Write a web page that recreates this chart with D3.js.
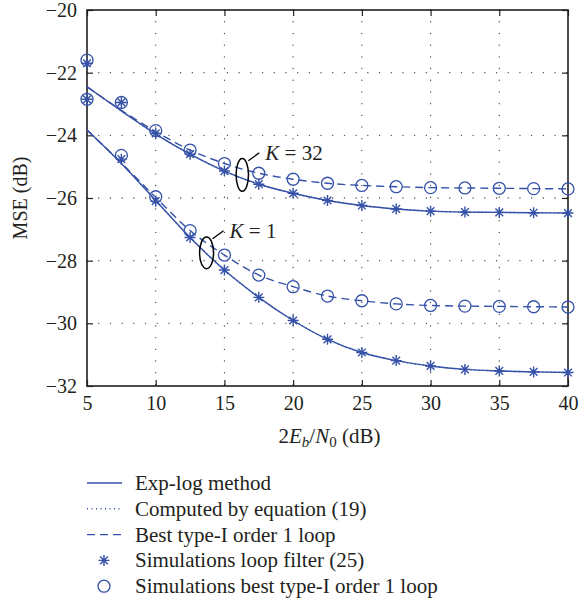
<!DOCTYPE html>
<html>
<head>
<meta charset="utf-8">
<script src="https://cdn.jsdelivr.net/npm/d3@7"></script>
<style>
  body { margin: 0; background: #fff; }
  text { font-family: "Liberation Serif", "DejaVu Serif", serif; fill: #231f20; }
</style>
</head>
<body>
<div id="my_dataviz"></div>
<script>
// x values (2Eb/N0 in dB)
var snr = [5, 7.5, 10, 12.5, 15, 17.5, 20, 22.5, 25, 27.5, 30, 32.5, 35, 37.5, 40];

// K = 32
var expLogK32 = [-22.45, -23.22, -23.96, -24.6, -25.14, -25.56, -25.85, -26.08, -26.24, -26.35, -26.42, -26.45, -26.46, -26.47, -26.48];
var eqK32 = [-22.45, -23.22, -23.96, -24.6, -25.14, -25.56, -25.85, -26.08, -26.24, -26.35, -26.42, -26.45, -26.46, -26.47, -26.48];
var bestK32 = [-22.45, -23.2, -23.88, -24.47, -24.9, -25.21, -25.4, -25.53, -25.6, -25.64, -25.67, -25.68, -25.69, -25.7, -25.71];
var simLoopK32 = [-21.7, -22.95, -23.94, -24.6, -25.14, -25.56, -25.85, -26.08, -26.24, -26.35, -26.42, -26.45, -26.46, -26.47, -26.48];
var simBestK32 = [-21.6, -22.95, -23.85, -24.47, -24.9, -25.21, -25.4, -25.53, -25.6, -25.64, -25.67, -25.68, -25.69, -25.7, -25.71];

// K = 1
var expLogK1 = [-23.83, -24.9, -26.08, -27.26, -28.3, -29.17, -29.91, -30.51, -30.93, -31.19, -31.36, -31.47, -31.52, -31.55, -31.57];
var eqK1 = [-23.83, -24.9, -26.08, -27.26, -28.3, -29.17, -29.91, -30.51, -30.93, -31.19, -31.36, -31.47, -31.52, -31.55, -31.57];
var bestK1 = [-23.83, -24.88, -25.98, -27.04, -27.82, -28.46, -28.83, -29.13, -29.28, -29.38, -29.43, -29.45, -29.46, -29.47, -29.48];
var simLoopK1 = [-22.85, -24.76, -26.1, -27.26, -28.3, -29.17, -29.91, -30.51, -30.93, -31.19, -31.36, -31.47, -31.52, -31.55, -31.57];
var simBestK1 = [-22.85, -24.64, -25.96, -27.04, -27.82, -28.46, -28.83, -29.13, -29.28, -29.38, -29.43, -29.45, -29.46, -29.47, -29.48];

var xTicks = [5, 10, 15, 20, 25, 30, 35, 40];
var yTicks = [-32, -30, -28, -26, -24, -22, -20];

var legendLabels = ["Exp-log method", "Computed by equation (19)", "Best type-I order 1 loop",
  "Simulations loop filter (25)", "Simulations best type-I order 1 loop"];

var blue = "#3552a8";

// set the dimensions and margins of the graph
var margin = { top: 10, right: 12, bottom: 214, left: 87 },
    width = 580 - margin.left - margin.right,
    height = 600 - margin.top - margin.bottom;

var svg = d3.select("#my_dataviz")
  .append("svg")
  .attr("width", 580)
  .attr("height", 600)
  .append("g")
  .attr("transform", "translate(" + margin.left + "," + margin.top + ")");

var x = d3.scaleLinear().domain([5, 40]).range([0, width]);
var y = d3.scaleLinear().domain([-32, -20]).range([height, 0]);

// dotted grid
svg.append("g")
  .attr("class", "grid")
  .selectAll("line.gx")
  .data(xTicks.slice(1, -1))
  .enter().append("line")
  .attr("x1", d => x(d)).attr("x2", d => x(d))
  .attr("y1", 0).attr("y2", height);
svg.select(".grid")
  .selectAll("line.gy")
  .data(yTicks.slice(1, -1))
  .enter().append("line")
  .attr("x1", 0).attr("x2", width)
  .attr("y1", d => y(d)).attr("y2", d => y(d));
svg.selectAll(".grid line")
  .attr("stroke", "#444")
  .attr("stroke-width", 1.3)
  .attr("stroke-linecap", "round")
  .attr("stroke-dasharray", "0.1,11.6");

// axes with inward ticks
function styleAxis(g) {
  g.select(".domain").remove();
  g.selectAll("line").attr("stroke", "#231f20").attr("stroke-width", 1.2);
  g.selectAll("text").style("font-size", "20px").attr("fill", "#231f20");
}
svg.append("g")
  .attr("transform", "translate(0," + height + ")")
  .call(d3.axisBottom(x).tickValues(xTicks).tickSize(-6).tickPadding(10))
  .call(styleAxis);
svg.append("g")
  .call(d3.axisTop(x).tickValues(xTicks).tickSize(-6).tickFormat(""))
  .call(styleAxis);
svg.append("g")
  .call(d3.axisLeft(y).tickValues(yTicks).tickSize(-6).tickPadding(10))
  .call(styleAxis);
svg.append("g")
  .attr("transform", "translate(" + width + ",0)")
  .call(d3.axisRight(y).tickValues(yTicks).tickSize(-6).tickFormat(""))
  .call(styleAxis);

svg.append("rect")
  .attr("width", width).attr("height", height)
  .attr("fill", "none").attr("stroke", "#231f20").attr("stroke-width", 1.6);

// lines
var line = d3.line()
  .x((d, i) => x(snr[i]))
  .y(d => y(d))
  .curve(d3.curveMonotoneX);

function drawLine(vals, dash) {
  svg.append("path")
    .datum(vals)
    .attr("fill", "none")
    .attr("stroke", blue)
    .attr("stroke-width", 1.4)
    .attr("stroke-dasharray", dash)
    .attr("d", line);
}
drawLine(expLogK32, null);
drawLine(expLogK1, null);
drawLine(eqK32, "1,3");
drawLine(eqK1, "1,3");
drawLine(bestK32, "8,5");
drawLine(bestK1, "8,5");

// markers
function star(g, s) {
  g.append("path")
    .attr("d", "M" + -s + ",0H" + s + "M0," + -s + "V" + s +
      "M" + (-s * 0.7) + "," + (-s * 0.7) + "L" + (s * 0.7) + "," + (s * 0.7) +
      "M" + (-s * 0.7) + "," + (s * 0.7) + "L" + (s * 0.7) + "," + (-s * 0.7))
    .attr("stroke", blue).attr("stroke-width", 1.4).attr("fill", "none");
}
function circ(g) {
  g.append("circle").attr("r", 6)
    .attr("fill", "none").attr("stroke", blue).attr("stroke-width", 1.3);
}
[simLoopK32, simLoopK1].forEach(function (vals) {
  svg.selectAll(null).data(vals).enter().append("g")
    .attr("transform", (d, i) => "translate(" + x(snr[i]) + "," + y(d) + ")")
    .each(function () { star(d3.select(this), 5.5); });
});
[simBestK32, simBestK1].forEach(function (vals) {
  svg.selectAll(null).data(vals).enter().append("g")
    .attr("transform", (d, i) => "translate(" + x(snr[i]) + "," + y(d) + ")")
    .each(function () { circ(d3.select(this)); });
});

// K annotations
var notes = [
  { cx: 16.3, cy: -25.26, rx: 6.2, ry: 16.4, label: "32" },
  { cx: 13.7, cy: -27.75, rx: 7, ry: 15.8, label: "1" }
];
notes.forEach(function (n) {
  var px = x(n.cx), py = y(n.cy);
  svg.append("ellipse")
    .attr("cx", px).attr("cy", py).attr("rx", n.rx).attr("ry", n.ry)
    .attr("fill", "none").attr("stroke", "#000").attr("stroke-width", 1.5);
  svg.append("line")
    .attr("x1", px + 6).attr("y1", py - 14)
    .attr("x2", px + 17).attr("y2", py - 22)
    .attr("stroke", "#000").attr("stroke-width", 1.3);
  var t = svg.append("text")
    .attr("x", px + 23).attr("y", py - 15)
    .style("font-size", "21px");
  t.append("tspan").style("font-style", "italic").text("K");
  t.append("tspan").text(" = " + n.label);
});

// axis titles
var xl = svg.append("text")
  .attr("x", width / 2 + 2).attr("y", height + 57)
  .attr("text-anchor", "middle")
  .style("font-size", "21px");
xl.append("tspan").text("2");
xl.append("tspan").style("font-style", "italic").text("E");
xl.append("tspan").style("font-style", "italic").style("font-size", "15px").attr("dy", 4).text("b");
xl.append("tspan").attr("dy", -4).text("/");
xl.append("tspan").style("font-style", "italic").text("N");
xl.append("tspan").style("font-size", "15px").attr("dy", 4).text("0");
xl.append("tspan").attr("dy", -4).text(" (dB)");

svg.append("text")
  .attr("transform", "translate(" + (27 - margin.left) + "," + (height / 2) + ") rotate(-90)")
  .attr("text-anchor", "middle")
  .style("font-size", "20px")
  .text("MSE (dB)");

// legend
var legend = d3.select("svg").append("g").attr("transform", "translate(87,483)");
legendLabels.forEach(function (lab, i) {
  var row = legend.append("g").attr("transform", "translate(0," + (i * 25.8) + ")");
  if (i < 3) {
    row.append("line")
      .attr("x1", 0).attr("x2", 35).attr("y1", 0).attr("y2", 0)
      .attr("stroke", blue).attr("stroke-width", 1.4)
      .attr("stroke-dasharray", [null, "1,3.5", "8,5"][i]);
  } else if (i === 3) {
    star(row.append("g").attr("transform", "translate(17,0)"), 5.5);
  } else {
    circ(row.append("g").attr("transform", "translate(17,0)"));
  }
  row.append("text")
    .attr("x", 48).attr("y", 7)
    .style("font-size", "21px")
    .text(lab);
});
</script>
</body>
</html>
